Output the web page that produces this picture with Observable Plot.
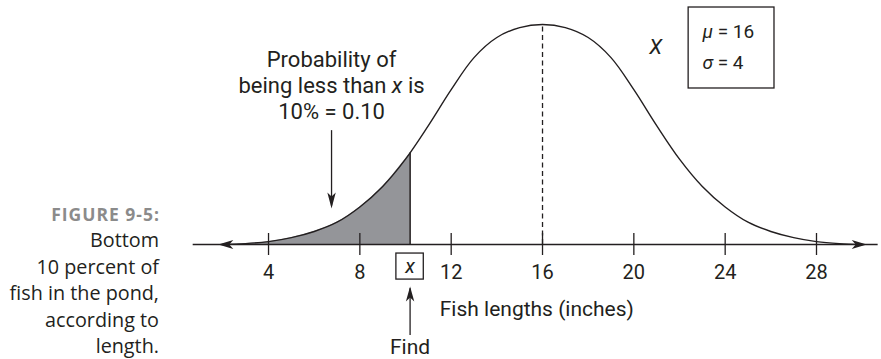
<!DOCTYPE html>
<html><head><meta charset="utf-8">
<script src="https://cdn.jsdelivr.net/npm/d3@7"></script>
<script src="https://cdn.jsdelivr.net/npm/@observablehq/plot@0.6"></script>
<style>
html,body{margin:0;padding:0;background:#fff;}
#wrap{position:relative;width:881px;height:359px;overflow:hidden;}
#cap{position:absolute;left:0;top:201px;width:159px;text-align:right;font-family:"Open Sans",sans-serif;color:#231f20;font-size:19.8px;line-height:26.4px;}
#cap .fig{font-weight:700;color:#8b8b8b;font-size:17.5px;letter-spacing:1px;margin-right:-1px;}
#chart{position:absolute;left:0;top:0;}
</style></head><body>
<div id="wrap">
<div id="cap"><div class="fig">FIGURE 9-5:</div>Bottom<br>10 percent of<br>fish in the pond,<br>according to<br>length.</div>
<div id="chart"></div>
</div>
<script>
// ---- data ----
const mu = 16;
const sigma = 4;
const tickValues = [4, 8, 12, 16, 20, 24, 28];
const tickLabels = ["4", "8", "12", "16", "20", "24", "28"];
const curveX = [2, 3, 4, 5, 6, 7, 8, 9, 10, 11, 12, 13, 14, 15, 16, 17, 18, 19, 20, 21, 22, 23, 24, 25, 26, 27, 28, 29, 30];
const curveDensity = [0, 0.0004, 0.0013, 0.0031, 0.0059, 0.0101, 0.0170, 0.0263, 0.0387, 0.0539, 0.0702, 0.0847, 0.0938, 0.0983, 0.0997, 0.0983, 0.0938, 0.0847, 0.0702, 0.0539, 0.0387, 0.0263, 0.0170, 0.0101, 0.0059, 0.0031, 0.0013, 0.0004, 0];
const cutoffX = 10.2;          // the "x" that cuts off the bottom 10%
const cutoffDensity = 0.0415;
const axisExtent = [0.7, 30.7];
const curveEnds = [1.8, 30.2];
const probLabel = "Probability of\nbeing less than x is\n10% = 0.10";
const xLabel = "Fish lengths (inches)";
const findLabel = "Find";
const muLabel = "\u03bc = " + mu;
const sigmaLabel = "\u03c3 = " + sigma;

// ---- tables built from the arrays ----
const curve = curveX.map((x, i) => ({x, y: curveDensity[i]}));
const shade = curve.filter(d => d.x <= cutoffX).concat([{x: cutoffX, y: cutoffDensity}]);
const peak = curveDensity[curveX.indexOf(mu)];

const ink = "#231f20";
const arrowLeft = {draw(c) { c.moveTo(0, 0); c.lineTo(15, -4.5); c.lineTo(11, 0); c.lineTo(15, 4.5); c.closePath(); }};
const arrowRight = {draw(c) { c.moveTo(0, 0); c.lineTo(-15, -4.5); c.lineTo(-11, 0); c.lineTo(-15, 4.5); c.closePath(); }};
const arrowDown = {draw(c) { c.moveTo(0, 0); c.lineTo(-4.2, -16); c.lineTo(0, -12); c.lineTo(4.2, -16); c.closePath(); }};
const arrowUp = {draw(c) { c.moveTo(0, 0); c.lineTo(-4.2, 15); c.lineTo(0, 11); c.lineTo(4.2, 15); c.closePath(); }};

const chart = Plot.plot({
  width: 881,
  height: 359,
  x: {domain: [0, 28], range: [176.7, 816], axis: null},
  y: {domain: [0, 0.0997], range: [244, 24], axis: null},
  style: {fontFamily: "Roboto, 'Liberation Sans', sans-serif", color: ink, background: "transparent", overflow: "visible"},
  marks: [
    Plot.areaY(shade, {x: "x", y: "y", curve: "catmull-rom", fill: "#949599"}),
    Plot.ruleY([0], {x1: axisExtent[0], x2: axisExtent[1], stroke: ink, strokeWidth: 1.4}),
    Plot.ruleX(tickValues, {x: d => d, y1: 0, y2: 0, insetTop: 11, insetBottom: 11, stroke: ink, strokeWidth: 1.3}),
    Plot.text(tickValues, {x: d => d, y: 0, text: (d, i) => tickLabels[i], dy: 28, fontSize: 20, fill: ink}),
    Plot.ruleX([mu], {y1: 0, y2: peak, stroke: ink, strokeWidth: 1.3, strokeDasharray: "5,3.5"}),
    Plot.ruleX([cutoffX], {y1: 0, y2: cutoffDensity, stroke: ink, strokeWidth: 1.6}),
    Plot.line(curve, {x: "x", y: "y", curve: "catmull-rom", stroke: ink, strokeWidth: 1.4}),
    Plot.dot([curveEnds[0]], {x: d => d, y: 0, symbol: arrowLeft, r: 3, fill: ink, stroke: "none"}),
    Plot.dot([curveEnds[1]], {x: d => d, y: 0, symbol: arrowRight, r: 3, fill: ink, stroke: "none"}),
    // probability annotation
    Plot.text([probLabel], {x: 6.76, y: 0.0571, text: d => d, lineAnchor: "bottom", lineHeight: 1.18, fontSize: 22, fill: ink}),
    Plot.ruleX([6.76], {y1: 0.0516, y2: 0.0175, stroke: ink, strokeWidth: 1.3}),
    Plot.dot([6.76], {x: d => d, y: 0.0163, symbol: arrowDown, r: 3, fill: ink, stroke: "none"}),
    // X label and parameter box
    Plot.text(["X"], {x: 20.95, y: 0.0893, text: d => d, fontSize: 21, fontStyle: "italic", fill: ink}),
    Plot.rect([0], {x1: 22.4, x2: 26.16, y1: 0.0707, y2: 0.1074, fill: "white", stroke: ink, strokeWidth: 1.3}),
    Plot.text([muLabel, sigmaLabel], {x: 23.01, y: (d, i) => [0.0938, 0.0797][i], text: d => d, textAnchor: "start", lineAnchor: "bottom", fontSize: 19, fill: ink}),
    // x box below axis with "Find" arrow
    Plot.rect([0], {x1: cutoffX - 0.6, x2: cutoffX + 0.6, y1: -0.0159, y2: -0.0041, fill: "white", stroke: ink, strokeWidth: 1.3}),
    Plot.text(["x"], {x: cutoffX, y: -0.0098, text: d => d, fontSize: 20, fontStyle: "italic", fill: ink}),
    Plot.ruleX([cutoffX], {y1: -0.0412, y2: -0.0200, stroke: ink, strokeWidth: 1.3}),
    Plot.dot([cutoffX], {x: d => d, y: -0.0190, symbol: arrowUp, r: 3, fill: ink, stroke: "none"}),
    Plot.text([findLabel], {x: cutoffX, y: -0.0498, text: d => d, lineAnchor: "bottom", fontSize: 21, fill: ink}),
    Plot.text([xLabel], {x: 15.75, y: -0.0326, text: d => d, lineAnchor: "bottom", fontSize: 21, fill: ink})
  ]
});

// italicize the variable symbols inside text
function italicize(root, full, part) {
  root.querySelectorAll("text, tspan").forEach(el => {
    if (el.childElementCount === 0 && el.textContent === full) {
      const k = full.indexOf(part);
      el.textContent = "";
      el.appendChild(document.createTextNode(full.slice(0, k)));
      const t = document.createElementNS("http://www.w3.org/2000/svg", "tspan");
      t.setAttribute("font-style", "italic");
      t.textContent = part;
      el.appendChild(t);
      el.appendChild(document.createTextNode(full.slice(k + part.length)));
    }
  });
}
italicize(chart, "being less than x is", "x");
italicize(chart, muLabel, "\u03bc");
italicize(chart, sigmaLabel, "\u03c3");

document.getElementById("chart").appendChild(chart);
</script>
</body></html>
